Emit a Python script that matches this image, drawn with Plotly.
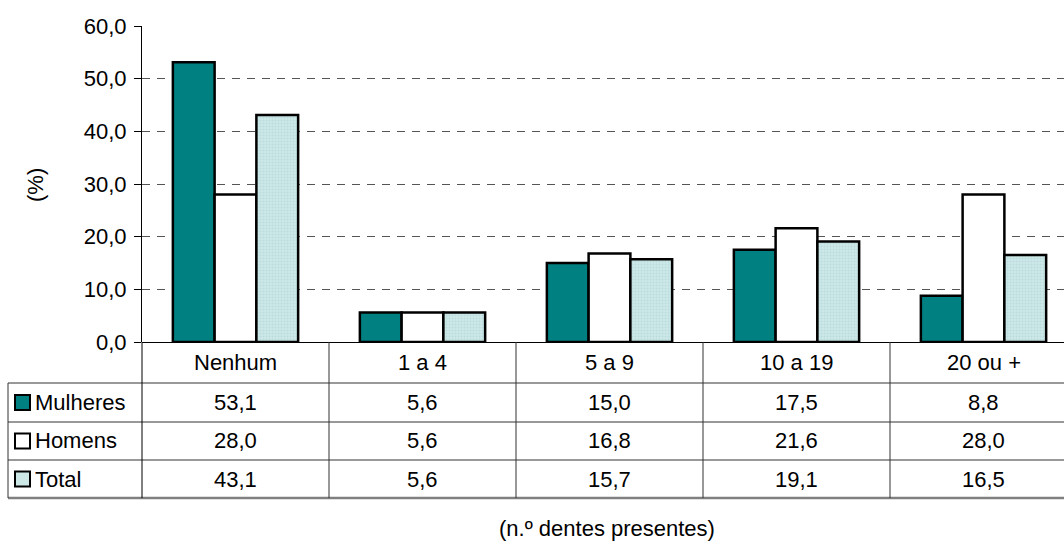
import plotly.graph_objects as go

# ---- data ----
categories = ["Nenhum", "1 a 4", "5 a 9", "10 a 19", "20 ou +"]
mulheres = [53.1, 5.6, 15.0, 17.5, 8.8]
homens = [28.0, 5.6, 16.8, 21.6, 28.0]
total = [43.1, 5.6, 15.7, 19.1, 16.5]
series_names = ["Mulheres", "Homens", "Total"]
y_ticks = [0, 10, 20, 30, 40, 50, 60]

# ---- layout constants (pixels) ----
W, H = 1064, 545
PLOT_L, PLOT_T, PLOT_B = 142, 26, 342
PLOT_W = W - PLOT_L
PLOT_H = PLOT_B - PLOT_T
CAT_W = 187.0
X0 = -0.5
X1 = X0 + PLOT_W / CAT_W
ROW_EDGES = [342, 383, 422, 460, 498]
TABLE_LEFT = 8
FONT = "Liberation Sans, Arial, sans-serif"
FS = 22

TEAL = "#008080"
LIGHT = "#CDE7E7"


def px_x(px):
    return (px - PLOT_L) / PLOT_W


def px_y(py):
    return (PLOT_B - py) / PLOT_H


def cat_x(v):
    return (v - X0) / (X1 - X0)


def fmt(v):
    return f"{v:.1f}".replace(".", ",")


fig = go.Figure()
fig.add_trace(go.Bar(x=categories, y=mulheres, name=series_names[0],
                     marker=dict(color=TEAL, line=dict(color="black", width=2.5))))
fig.add_trace(go.Bar(x=categories, y=homens, name=series_names[1],
                     marker=dict(color="white", line=dict(color="black", width=2.5))))
fig.add_trace(go.Bar(x=categories, y=total, name=series_names[2],
                     marker=dict(color=LIGHT, line=dict(color="black", width=2.5),
                                 pattern=dict(shape=".", fgcolor="#A9D2D2",
                                              bgcolor=LIGHT, size=3, solidity=0.35))))

shapes = []
annotations = []
line_col = "#333333"

# horizontal table rules
for i, py in enumerate(ROW_EDGES[1:]):
    last = i == len(ROW_EDGES) - 2
    shapes.append(dict(type="line", xref="paper", yref="paper",
                       x0=px_x(TABLE_LEFT), x1=1.05, y0=px_y(py), y1=px_y(py),
                       line=dict(color="#808080" if last else line_col,
                                 width=2.5 if last else 1)))

# vertical table rules
shapes.append(dict(type="line", xref="paper", yref="paper",
                   x0=px_x(TABLE_LEFT), x1=px_x(TABLE_LEFT),
                   y0=px_y(ROW_EDGES[1]), y1=px_y(ROW_EDGES[-1]),
                   line=dict(color=line_col, width=1)))
shapes.append(dict(type="line", xref="paper", yref="paper",
                   x0=0, x1=0, y0=0, y1=px_y(ROW_EDGES[-1]),
                   line=dict(color="black", width=1)))
for i in range(1, len(categories)):
    xp = cat_x(i - 0.5)
    shapes.append(dict(type="line", xref="paper", yref="paper",
                       x0=xp, x1=xp, y0=0, y1=px_y(ROW_EDGES[-1]),
                       line=dict(color=line_col, width=1)))

# category header row
hdr_y = px_y((ROW_EDGES[0] + ROW_EDGES[1]) / 2)
for i, c in enumerate(categories):
    annotations.append(dict(x=c, xref="x", y=hdr_y, yref="paper", text=c,
                            showarrow=False, xanchor="center", yanchor="middle",
                            font=dict(family=FONT, size=FS, color="black")))

# value rows with legend keys
key_fills = [TEAL, "white", LIGHT]
for r, (name, vals) in enumerate(zip(series_names, [mulheres, homens, total])):
    yc_px = (ROW_EDGES[r + 1] + ROW_EDGES[r + 2]) / 2
    yc = px_y(yc_px)
    shapes.append(dict(type="rect", xref="paper", yref="paper",
                       x0=px_x(15), x1=px_x(30), y0=px_y(yc_px + 7.5), y1=px_y(yc_px - 7.5),
                       fillcolor=key_fills[r], line=dict(color="black", width=2)))
    annotations.append(dict(x=px_x(33), xref="paper", y=yc, yref="paper", text=name,
                            showarrow=False, xanchor="left", yanchor="middle",
                            font=dict(family=FONT, size=FS, color="black")))
    for c, v in zip(categories, vals):
        annotations.append(dict(x=c, xref="x", y=yc, yref="paper", text=fmt(v),
                                showarrow=False, xanchor="center", yanchor="middle",
                                font=dict(family=FONT, size=FS, color="black")))

# axis titles
annotations.append(dict(x=px_x(35), xref="paper", y=px_y(185), yref="paper",
                        text="(%)", textangle=-90, showarrow=False,
                        xanchor="center", yanchor="middle",
                        font=dict(family=FONT, size=FS, color="black")))
annotations.append(dict(x=px_x(607), xref="paper", y=px_y(528), yref="paper",
                        text="(n.º dentes presentes)", showarrow=False,
                        xanchor="center", yanchor="middle",
                        font=dict(family=FONT, size=FS, color="black")))

fig.update_layout(
    width=W, height=H,
    margin=dict(l=PLOT_L, r=0, t=PLOT_T, b=H - PLOT_B, pad=0),
    paper_bgcolor="white", plot_bgcolor="white",
    barmode="group", bargap=0.33, bargroupgap=0,
    showlegend=False,
    separators=",.",
    font=dict(family=FONT, size=FS, color="black"),
    shapes=shapes, annotations=annotations,
)
fig.update_xaxes(range=[X0, X1], showticklabels=False, ticks="",
                 showgrid=False, showline=False, zeroline=False, fixedrange=True)
fig.update_yaxes(range=[0, 60], tickvals=y_ticks, tickformat=".1f",
                 ticks="outside", ticklen=7, tickcolor="black", tickwidth=1,
                 ticklabelstandoff=3,
                 showline=True, linecolor="black", linewidth=1,
                 showgrid=True, gridcolor="#555555", gridwidth=1, griddash="8px,7px",
                 zeroline=True, zerolinecolor="black", zerolinewidth=1,
                 tickfont=dict(family=FONT, size=FS, color="black"))

fig.write_html("out.html")
